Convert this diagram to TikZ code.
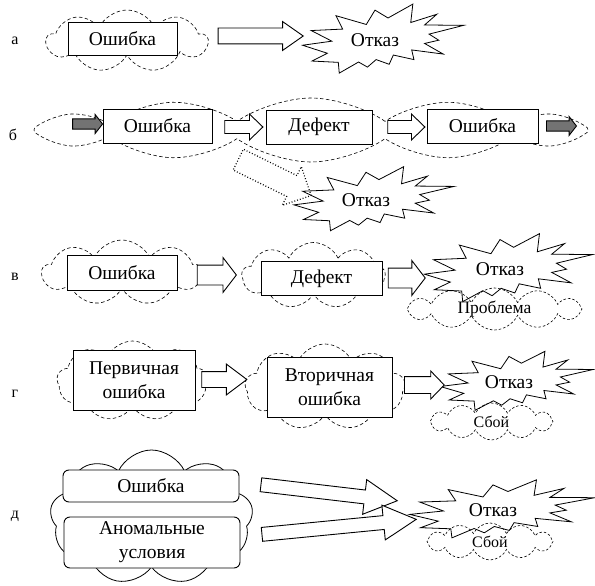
\documentclass[tikz,border=0pt]{standalone}
\usepackage{fontspec}
\setmainfont{Liberation Serif}
\newfontfamily\timesru{Liberation Serif}
\usetikzlibrary{shapes.symbols,shapes.arrows,calc}

\tikzset{
  txt/.style={font=\timesru\fontsize{19.5}{24}\selectfont},
  lbl/.style={font=\timesru\fontsize{16}{18}\selectfont, anchor=base},
  box/.style={txt, draw, fill=white, line width=.9pt, inner sep=0pt, align=center},
  rbox/.style={box, rounded corners=6pt},
  dcloud/.style={cloud, cloud puffs=9, cloud puff arc=130, cloud ignores aspect, draw,
    dash pattern=on 3.5pt off 2.5pt, line width=.6pt, inner sep=0pt},
  scloud/.style={dcloud, solid, line width=.8pt},
  ncloud/.style={dcloud, cloud puffs=12, font=\timesru\fontsize{16}{18}\selectfont, dash pattern=on 2.5pt off 2pt},
  burstline/.style={line width=.8pt, line join=miter},
  barrow/.style n args={3}{single arrow, draw, fill=white, line width=.9pt, inner xsep=0pt,
    inner ysep=#1, single arrow head extend=#2, single arrow tip angle=#3},
  garrow/.style n args={3}{barrow={#1}{#2}{#3}, fill=black!55},
}

% block arrow from #2 to #3
\newcommand\blockarrow[3][barrow={7}{7}{70}]{%
  \path let \p1=(#2), \p2=(#3), \n1={atan2(\y2-\y1,\x2-\x1)}, \n2={veclen(\x2-\x1,\y2-\y1)} in
    node[#1, rotate=\n1, minimum height=\n2] at ($(\p1)!.5!(\p2)$) {};}

% explosion round the text node #1, width #2, height #3
\newcommand\burst[3]{%
  \begin{scope}[shift={(#1.center)}, x=#2pt, y=-#3pt, shift={(-0.45,-0.52)}]
    \draw[burstline] (0.531,0.201) -- (0.685,0) -- (0.672,0.267) -- (0.834,0.147) -- (0.758,0.302)
      -- (1,0.308) -- (0.786,0.435) -- (0.846,0.523) -- (0.758,0.570) -- (0.874,0.724)
      -- (0.678,0.664) -- (0.692,0.804) -- (0.564,0.738) -- (0.538,0.872) -- (0.457,0.804)
      -- (0.403,0.913) -- (0.348,0.839) -- (0.228,1) -- (0.222,0.844) -- (0.059,0.825)
      -- (0.154,0.712) -- (0,0.596) -- (0.182,0.537) -- (0.054,0.383) -- (0.249,0.362)
      -- (0.208,0.168) -- (0.396,0.295) -- (0.450,0.087) -- cycle;
    \coordinate (#1-w) at (0,0.52);
  \end{scope}}

\begin{document}
\begin{tikzpicture}[x=1pt,y=-1pt]
\useasboundingbox (0,0) rectangle (595,586);

% а
\node[lbl] (la) at (15,45) {а};
\node[dcloud, minimum width=161, minimum height=62] (ca) at (127,41) {};
\node[box, minimum width=109, minimum height=33] (ba) at (122.5,38.5) {Ошибка};
\node[txt] (sa) at (375,40) {Отказ};
\burst{sa}{161}{69}
\blockarrow[barrow={7.5}{6.5}{70}]{$(ba.east)+(35,-2.5)$}{$(sa-w)+(-5,-4)$}

% б
\node[lbl] (lb) at (13,140) {б};
\node[dcloud, cloud puffs=12, cloud puff arc=70, minimum width=554, minimum height=64] (cb) at (311,130) {};
\node[box, minimum width=109, minimum height=34] (bb1) at (157.5,126) {Ошибка};
\node[box, minimum width=106, minimum height=34] (bdf) at (319,127) {Дефект};
\node[box, minimum width=111, minimum height=34] (bb2) at (482.5,126) {Ошибка};
\node[txt] (sb) at (366,200) {Отказ};
\burst{sb}{160}{64}
\blockarrow[garrow={4.7}{4.3}{104}]{$(bb1.west)+(-32,-2)$}{$(bb1.west)+(-2,-2)$}
\blockarrow[barrow={6}{6.5}{88}]{$(bb1.east)+(9,1)$}{$(bdf.west)+(-6,0)$}
\blockarrow[barrow={6}{6.5}{88}]{$(bdf.east)+(12,0)$}{$(bb2.west)+(-5,1)$}
\blockarrow[garrow={4.7}{4.3}{104}]{$(bb2.east)+(6,0)$}{$(bb2.east)+(36,0)$}
\blockarrow[barrow={11}{10}{90}, dotted, fill=none, line width=1.2pt]{$(cb.center)+(-78,27)$}{$(sb-w)+(12,-7)$}

% в
\node[lbl] (lv) at (15,280) {в};
\node[dcloud, minimum width=160, minimum height=65] (cv1) at (122,272.5) {};
\node[box, minimum width=110, minimum height=35] (bv1) at (122,272.5) {Ошибка};
\node[dcloud, minimum width=143, minimum height=66] (cv2) at (313.5,275.5) {};
\node[box, minimum width=121, minimum height=34] (bv2) at (321.5,278.5) {Дефект};
\node[txt] (sv) at (500,269) {Отказ};
\burst{sv}{168}{68}
\node[ncloud, font=\timesru\fontsize{17.5}{20}\selectfont, minimum width=175, minimum height=42] (cp) at (494.5,309) {Проблема};
\blockarrow[barrow={9.5}{7.5}{105}]{$(bv1.east)+(16,2.5)$}{$(bv2.west)+(-28,-3.5)$}
\blockarrow[barrow={9.5}{7.5}{105}]{$(bv2.east)+(2,-0.5)$}{$(sv-w)+(-3,9)$}

% г
\node[lbl] (lg) at (15,397) {г};
\node[dcloud, minimum width=151, minimum height=80] (cg1) at (132.5,381) {};
\node[box, minimum width=122, minimum height=60] (bg1) at (134,380) {Первичная\\ошибка};
\node[dcloud, minimum width=160, minimum height=86] (cg2) at (325,387) {};
\node[box, minimum width=125, minimum height=60] (bg2) at (329.5,387) {Вторичная\\ошибка};
\node[txt] (sg) at (509,382) {Отказ};
\burst{sg}{153}{59}
\node[ncloud, minimum width=123, minimum height=37] (cs1) at (491.5,421.5) {Сбой};
\blockarrow[barrow={7.5}{7.5}{74}]{$(bg1.east)+(1,-0.5)$}{$(bg2.west)+(-25,-7.5)$}
\blockarrow[barrow={8}{5.5}{92}]{$(bg2.east)+(8,-2)$}{$(sg-w)+(0,3)$}

% д
\node[lbl] (ld) at (15,518) {д};
\node[scloud, minimum width=203, minimum height=135] (cd) at (151.5,517.5) {};
\node[rbox, minimum width=176, minimum height=32] (be1) at (151,486) {Ошибка};
\node[rbox, minimum width=176, minimum height=51] (be2) at (152,542.5) {Аномальные\\условия};
\node[txt] (sd) at (493,510) {Отказ};
\burst{sd}{185}{58}
\node[ncloud, minimum width=126, minimum height=37] (cs2) at (490,541.5) {Сбой};
\blockarrow[barrow={6.5}{10.5}{56}]{$(be1.east)+(15,-2)$}{$(sd-w)+(-19,-10)$}
\blockarrow[barrow={6.5}{10.5}{56}]{$(be2.east)+(15,-7.5)$}{$(sd-w)+(0,10)$}
\end{tikzpicture}
\end{document}
